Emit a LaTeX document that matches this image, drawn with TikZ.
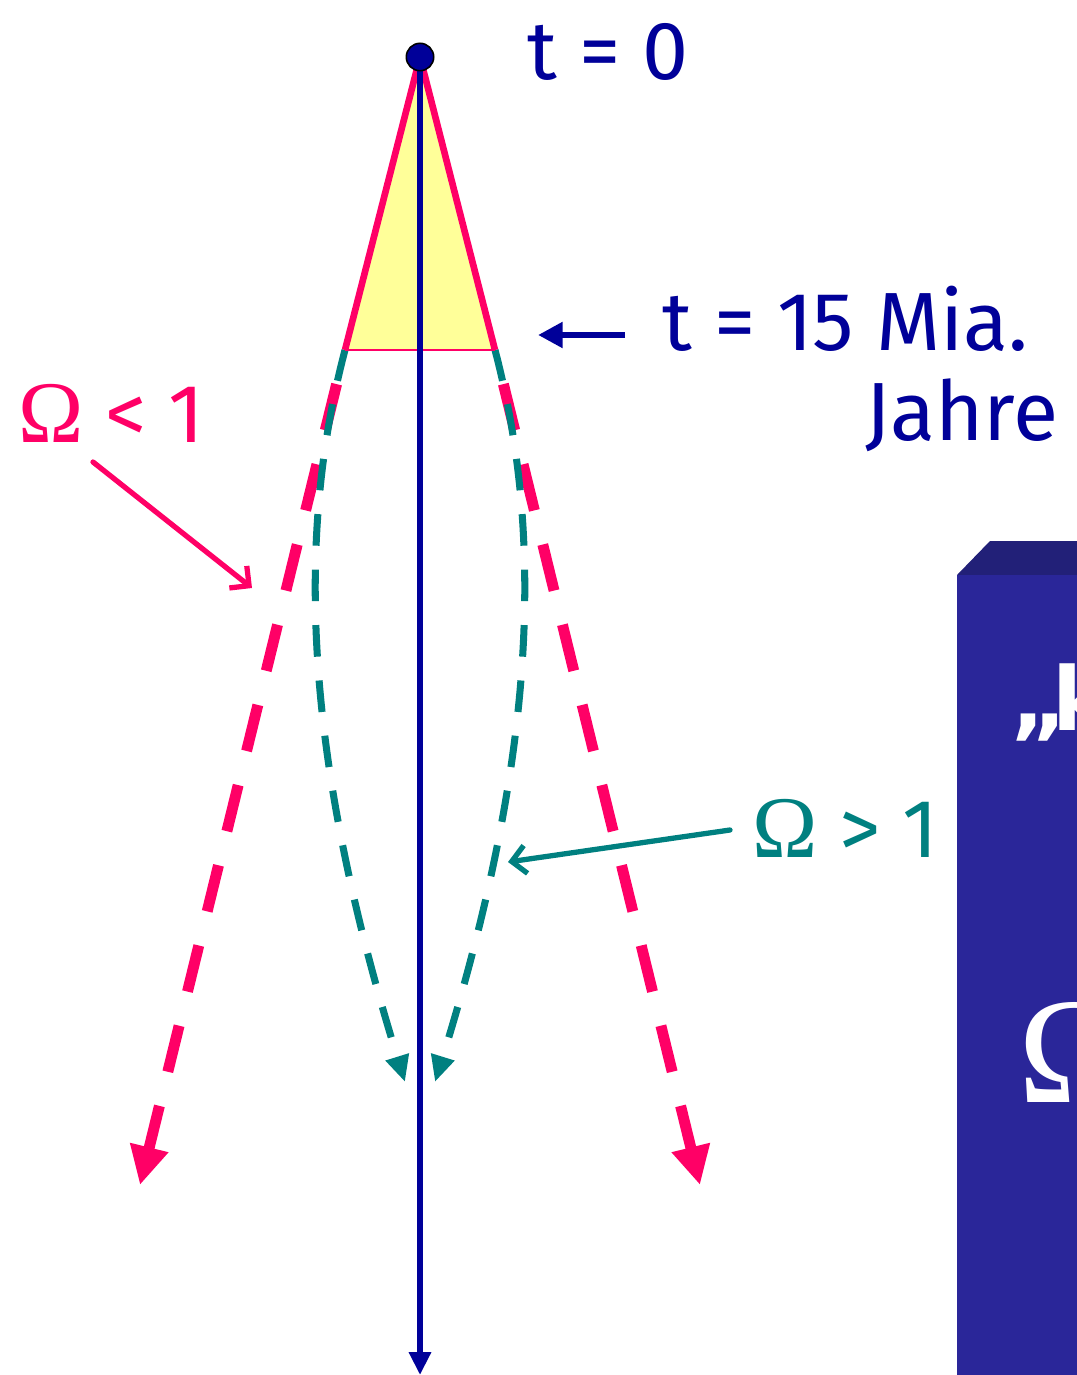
\documentclass[tikz,border=0pt]{standalone}
\usepackage{fontspec}
\setmainfont{Fira Sans}
\newfontfamily\omegafont{Liberation Serif}
\newfontfamily\slabfont{DejaVu Sans}
\usetikzlibrary{arrows.meta}

\definecolor{nightblue}{RGB}{0,0,153}
\definecolor{hotpink}{RGB}{255,0,102}
\definecolor{tealgreen}{RGB}{0,128,128}
\definecolor{paleyellow}{RGB}{255,255,153}
\definecolor{slabfront}{RGB}{42,38,153}
\definecolor{slabtop}{RGB}{34,32,120}

\tikzset{
  lbl/.style={anchor=base west, inner sep=0pt, font=\fontsize{47}{52}\selectfont},
  openpath/.style={hotpink, line width=6.2pt, dash pattern=on 27pt off 20pt, dash phase=27pt,
    -{Triangle[length=22pt,width=21pt]}},
  closedpath/.style={tealgreen, line width=4pt, dash pattern=on 18pt off 13.6pt,
    -{Triangle[length=15pt,width=13pt]}},
  pointer/.style={line width=3pt, line cap=round, -{Straight Barb[length=8pt,width=16pt]}}
}

\begin{document}
\begin{tikzpicture}[x=0.02cm, y=-0.02cm]
\useasboundingbox (0,0) rectangle (1077,1375);
\clip (0,0) rectangle (1077,1375);

% cone points
\coordinate (apex) at (420,57);
\coordinate (bl) at (345,350);
\coordinate (br) at (495,350);
\coordinate (openL) at (140,1185);
\coordinate (openR) at (700,1185);
\coordinate (closedL) at (405,1082);
\coordinate (closedR) at (435,1082);
\coordinate (axisend) at (420,1375);

% open universe
\draw[openpath] (bl) -- (openL);
\draw[openpath] (br) -- (openR);

% closed universe
\draw[closedpath] (bl) .. controls (295,540) and (305,760) .. (closedL);
\draw[closedpath] (br) .. controls (545,540) and (535,760) .. (closedR);

% past cone
\fill[paleyellow] (apex) -- (bl) -- (br) -- cycle;
\draw[hotpink, line width=0.8pt] (bl) -- (br);
\draw[hotpink, line width=3.8pt] (bl) -- (apex) -- (br);

% time axis
\draw[nightblue, line width=3.2pt, -{Triangle[length=13pt,width=12pt]}] (apex) -- (axisend);
\filldraw[fill=nightblue, draw=black, line width=0.9pt] (apex) circle (7.8pt);

% labels
\node[lbl, nightblue] (tzero) at (527,80) {t = 0};
\node[lbl, nightblue] (tnow) at (662,350) {t = 15 Mia.};
\node[lbl, nightblue] (jahre) at (865,440) {Jahre};
\node[lbl, hotpink] (open) at (18,442) {{\omegafont\fontsize{50}{56}\selectfont Ω} < 1};
\node[lbl, tealgreen] (closed) at (752,857) {{\omegafont\fontsize{50}{56}\selectfont Ω} > 1};

% pointers
\coordinate (nowtail) at (625,335);
\coordinate (nowtip) at (538,335);
\draw[nightblue, line width=3.6pt, -{Triangle[length=14pt,width=14pt]}] (nowtail) -- (nowtip);
\coordinate (opentail) at (93,462);
\coordinate (opentip) at (252,588);
\draw[pointer, hotpink] (opentail) -- (opentip);
\coordinate (closedtail) at (730,830);
\coordinate (closedtip) at (508,862);
\draw[pointer, tealgreen] (closedtail) -- (closedtip);

% box at the right
\fill[slabtop] (957,575) -- (990,541) -- (1077,541) -- (1077,575) -- cycle;
\fill[slabfront] (957,575) rectangle (1077,1375);
\node[anchor=base west, inner sep=0pt, white, font=\slabfont\bfseries\fontsize{50}{56}\selectfont] (quote) at (1010,730) {„\kern-9pt k};
\node[anchor=base west, inner sep=0pt, white, font=\omegafont\fontsize{86}{90}\selectfont] (bigomega) at (1018,1102) {Ω};
\end{tikzpicture}
\end{document}
